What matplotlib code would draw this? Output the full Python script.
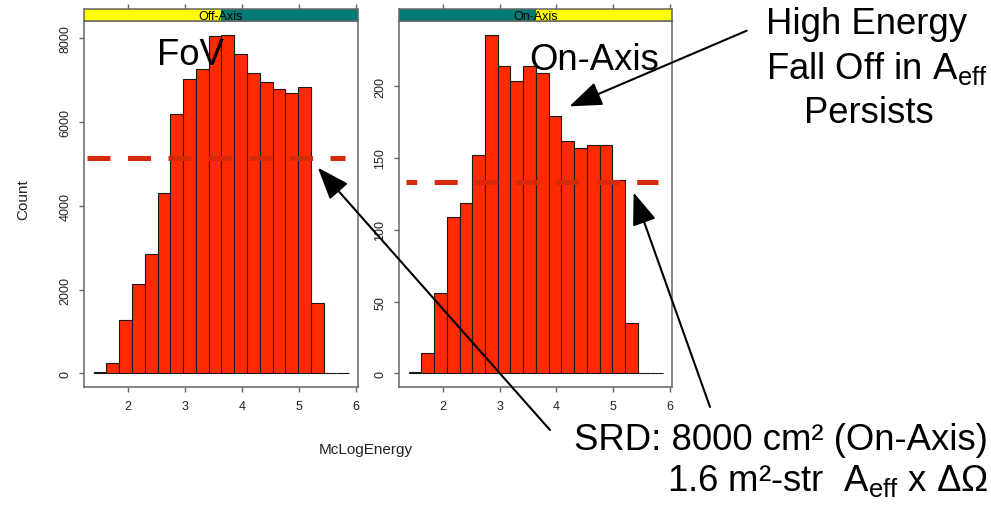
import matplotlib
matplotlib.use('Agg')
import matplotlib.pyplot as plt
from matplotlib.patches import Rectangle
import numpy as np

plt.rcParams['font.family'] = ['Liberation Sans', 'DejaVu Sans']
plt.rcParams['mathtext.fontset'] = 'custom'
plt.rcParams['mathtext.rm'] = 'Liberation Sans'
plt.rcParams['mathtext.it'] = 'Liberation Sans:italic'
plt.rcParams['mathtext.bf'] = 'Liberation Sans:bold'

# ---------------- data ----------------
bin_edges = [1.400, 1.624, 1.848, 2.072, 2.296, 2.520, 2.744, 2.968, 3.192,
             3.416, 3.640, 3.864, 4.088, 4.312, 4.536, 4.760, 4.984, 5.208,
             5.432, 5.656, 5.880]
off_axis_counts = [30, 246, 1282, 2141, 2857, 4298, 6193, 7021, 7276, 8056,
                   8088, 7634, 7180, 6949, 6798, 6694, 6846, 1688, 0, 0]
on_axis_counts = [1, 14, 56, 109, 119, 152, 236, 214, 204, 214,
                  209, 179, 162, 157, 159, 159, 135, 35, 0, 0]
panel_titles = ['Off-Axis', 'On-Axis']
x_ticks = [2, 3, 4, 5, 6]
off_axis_yticks = [0, 2000, 4000, 6000, 8000]
on_axis_yticks = [0, 50, 100, 150, 200]
srd_off_axis_level = 5130
srd_on_axis_level = 133
x_label = 'McLogEnergy'
y_label = 'Count'

# ---------------- layout ----------------
W, H = 991, 510
fig = plt.figure(figsize=(W / 100, H / 100), dpi=100)


def fx(x):
    return x / W


def fy(y):
    return 1 - y / H


frame_col = '#666666'
bar_col = '#ff2a00'
dash_col = '#d42a0c'
yellow = '#ffff00'
teal = '#007b76'

panels = [
    dict(x0=84, x1=358, counts=off_axis_counts, yticks=off_axis_yticks,
         title=panel_titles[0], strip=(yellow, teal),
         level=srd_off_axis_level, lx=(1.276, 5.80), off=0.0),
    dict(x0=399, x1=672, counts=on_axis_counts, yticks=on_axis_yticks,
         title=panel_titles[1], strip=(teal, yellow),
         level=srd_on_axis_level, lx=(1.356, 5.795), off=2.46),
]
y_top, y_bot, strip_top = 22, 388, 10
edges = np.array(bin_edges)
axes = []
for p in panels:
    ax = fig.add_axes([fx(p['x0']), fy(y_bot), fx(p['x1'] - p['x0']),
                       (y_bot - y_top) / H])
    counts = np.array(p['counts'])
    ax.bar(edges[:-1], counts, width=np.diff(edges), align='edge',
           color=bar_col, edgecolor='#1a1a1a', linewidth=0.8, zorder=2)
    m = counts.max()
    ax.set_xlim(1.23, 6.035)
    ax.set_ylim(-0.04 * m, 1.04 * m)
    ax.set_xticks(x_ticks)
    ax.set_yticks(p['yticks'])
    ax.tick_params(axis='both', direction='out', length=3.6, width=1,
                   color=frame_col, labelsize=9, labelcolor='#222222')
    ax.tick_params(axis='x', pad=6)
    ax.tick_params(axis='y', pad=5.5, labelrotation=90)
    for lab in ax.get_yticklabels():
        lab.set_va('center')
    for s in ax.spines.values():
        s.set_color(frame_col)
        s.set_linewidth(1.1)
    ax.plot(p['lx'], [p['level'], p['level']], color=dash_col, lw=3.6,
            linestyle=(p['off'], (4.6, 3.5)), solid_capstyle='butt',
            dash_capstyle='butt', clip_on=False, zorder=3)
    axes.append(ax)

    sax = fig.add_axes([fx(p['x0']), fy(y_top), fx(p['x1'] - p['x0']),
                        (y_top - strip_top) / H])
    sax.set_xlim(1.23, 6.035)
    sax.set_ylim(0, 1)
    sax.add_patch(Rectangle((0, 0), 0.5, 1, transform=sax.transAxes,
                            color=p['strip'][0], lw=0))
    sax.add_patch(Rectangle((0.5, 0), 0.5, 1, transform=sax.transAxes,
                            color=p['strip'][1], lw=0))
    sax.text(0.5, 0.45, p['title'], transform=sax.transAxes, ha='center',
             va='center', fontsize=9, color='black')
    sax.set_yticks([])
    sax.set_xticks(x_ticks)
    sax.tick_params(axis='x', top=True, labeltop=False, bottom=False,
                    labelbottom=False, direction='out', length=3.6, width=1,
                    color=frame_col)
    for s in sax.spines.values():
        s.set_color(frame_col)
        s.set_linewidth(1.1)

ax1, ax2 = axes

fig.text(fx(366), fy(454), x_label, ha='center', va='baseline',
         fontsize=11, color='#222222')
fig.text(fx(23), fy(200), y_label, ha='center', va='center', rotation=90,
         fontsize=11, color='#222222')

# ---------------- annotations ----------------
big = 26.3
fig.text(fx(157), fy(65), 'FoV', fontsize=big, ha='left', va='baseline')
fig.text(fx(529), fy(70), 'On-Axis', fontsize=big, ha='left', va='baseline')
fig.text(fx(867), fy(34), 'High Energy', fontsize=big, ha='center',
         va='baseline')
fig.text(fx(766), fy(79), r'Fall Off in A$_{\mathrm{eff}}$', fontsize=big,
         ha='left', va='baseline')
fig.text(fx(869), fy(123), 'Persists', fontsize=big, ha='center',
         va='baseline')
fig.text(fx(988), fy(450), 'SRD: 8000 cm\u00b2 (On-Axis)', fontsize=big,
         ha='right', va='baseline')
fig.text(fx(988), fy(491), r'1.6 m²-str  A$_{\mathrm{eff}}$ x ΔΩ',
         fontsize=big, ha='right', va='baseline')

over = fig.add_axes([0, 0, 1, 1], zorder=10)
over.set_axis_off()
over.patch.set_alpha(0)
arrow_kw = dict(arrowstyle='-|>,head_length=2.0,head_width=0.75',
                mutation_scale=10, lw=1.5, color='black', shrinkA=0,
                shrinkB=0)
over.annotate('', xy=(5.33, 4912), xycoords=ax1.transData,
              xytext=(fx(550), fy(431)), textcoords='figure fraction',
              arrowprops=arrow_kw, annotation_clip=False)
over.annotate('', xy=(5.36, 126), xycoords=ax2.transData,
              xytext=(fx(710), fy(408)), textcoords='figure fraction',
              arrowprops=arrow_kw, annotation_clip=False)
over.annotate('', xy=(4.23, 186), xycoords=ax2.transData,
              xytext=(fx(746.7), fy(31.7)), textcoords='figure fraction',
              arrowprops=arrow_kw, annotation_clip=False)

fig.savefig('out.png', dpi=100)
